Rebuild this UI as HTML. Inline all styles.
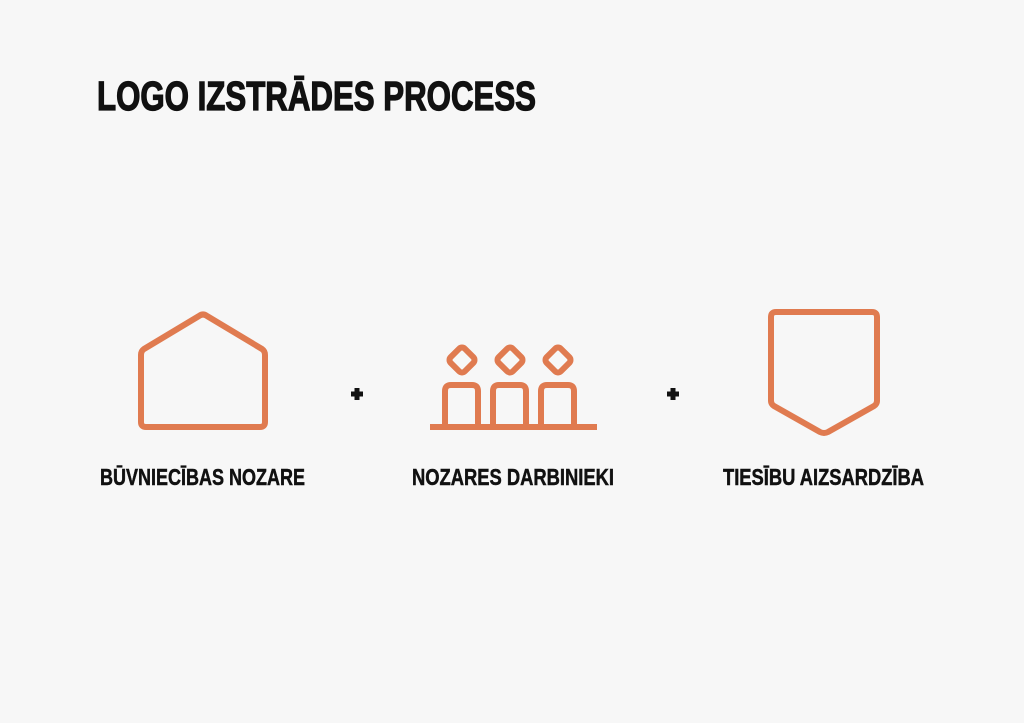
<!DOCTYPE html>
<html><head><meta charset="utf-8"><style>
html,body{margin:0;padding:0;background:#f7f7f7;}
svg{display:block;}
text{font-family:"Liberation Sans Narrow","Liberation Sans",sans-serif;font-weight:bold;fill:#111;stroke:#111;}
</style></head><body>
<svg width="1024" height="723" viewBox="0 0 1024 723" xmlns="http://www.w3.org/2000/svg">
<rect width="1024" height="723" fill="#f7f7f7"/>
<text x="97" y="110" font-size="41" stroke-width="1.3" textLength="439" lengthAdjust="spacingAndGlyphs">LOGO IZSTRĀDES PROCESS</text>
<g fill="none" stroke="#e07b50" stroke-width="6" stroke-linejoin="round" stroke-linecap="round">
<path d="M199 316 Q203 313 207 316 L262 349 Q265 351 265 355 V422 Q265 427 260 427 H146 Q141 427 141 422 V355 Q141 351 144 349 Z"/>
<path d="M776 312 H872 Q877 312 877 317 V401 Q877 404 874 406 L828 432 Q824 434 820 432 L774 406 Q771 404 771 401 V317 Q771 312 776 312 Z"/>
<rect x="452" y="350" width="20" height="20" rx="4" transform="rotate(45 462 360)"/>
<rect x="500" y="350" width="20" height="20" rx="4" transform="rotate(45 510 360)"/>
<rect x="548" y="350" width="20" height="20" rx="4" transform="rotate(45 558 360)"/>
<path d="M445 427 V391 Q445 385 451 385 H472 Q478 385 478 391 V427"/>
<path d="M493 427 V391 Q493 385 499 385 H520 Q526 385 526 391 V427"/>
<path d="M541 427 V391 Q541 385 547 385 H568 Q574 385 574 391 V427"/>
<path d="M430 427 H597" stroke-linecap="butt"/>
</g>
<g stroke="#111" stroke-width="5">
<path d="M351 394 H363 M357 388 V400"/>
<path d="M667 394 H679 M673 388 V400"/>
</g>
<text x="100" y="485" font-size="23" stroke-width="0.5" textLength="205" lengthAdjust="spacingAndGlyphs">BŪVNIECĪBAS NOZARE</text>
<text x="412" y="485" font-size="23" stroke-width="0.5" textLength="202" lengthAdjust="spacingAndGlyphs">NOZARES DARBINIEKI</text>
<text x="723" y="485" font-size="23" stroke-width="0.5" textLength="201" lengthAdjust="spacingAndGlyphs">TIESĪBU AIZSARDZĪBA</text>
</svg>
</body></html>
